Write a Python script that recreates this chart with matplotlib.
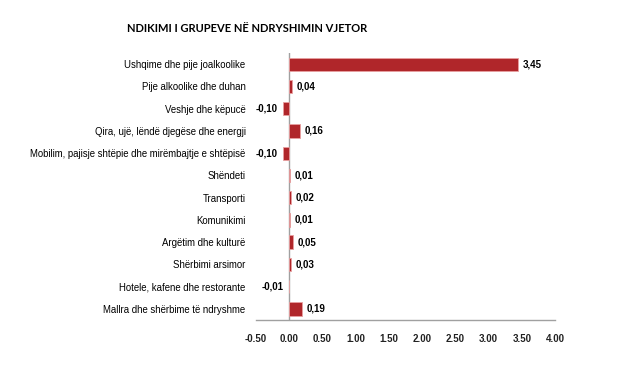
import matplotlib
matplotlib.use("Agg")
import matplotlib.pyplot as plt

categories = [
    "Ushqime dhe pije joalkoolike",
    "Pije alkoolike dhe duhan",
    "Veshje dhe këpucë",
    "Qira, ujë, lëndë djegëse dhe energji",
    "Mobilim, pajisje shtëpie dhe mirëmbajtje e shtëpisë",
    "Shëndeti",
    "Transporti",
    "Komunikimi",
    "Argëtim dhe kulturë",
    "Shërbimi arsimor",
    "Hotele, kafene dhe restorante",
    "Mallra dhe shërbime të ndryshme",
]
values = [3.45, 0.04, -0.10, 0.16, -0.10, 0.01, 0.02, 0.01, 0.05, 0.03, -0.01, 0.19]
xticks = [-0.5, 0.0, 0.5, 1.0, 1.5, 2.0, 2.5, 3.0, 3.5, 4.0]
title = "NDIKIMI I GRUPEVE NË NDRYSHIMIN VJETOR"

plt.rcParams['font.family'] = ['Liberation Sans', 'DejaVu Sans']

fig = plt.figure(figsize=(6.25, 3.74), dpi=100)
ax = fig.add_axes([0.4096, 0.1444, 0.4784, 0.7136])

y = list(range(len(categories)))
ax.barh(y, values, height=0.6, color="#B0262A", edgecolor="#E8A0A0", linewidth=0.6, zorder=3)
ax.set_ylim(len(categories) - 0.5, -0.5)
ax.set_xlim(-0.5, 4.0)
ax.set_yticks(y)
ax.set_yticklabels(categories, fontsize=6.9)
ax.tick_params(axis='y', length=0, pad=7.5)
ax.set_xticks(xticks)
ax.set_xticklabels([f"{t:.2f}" for t in xticks], fontsize=7, fontweight='bold', color="#222222")
ax.tick_params(axis='x', length=0, pad=10)

for s in ["top", "right", "left"]:
    ax.spines[s].set_visible(False)
ax.spines["bottom"].set_color("#A0A0A0")
ax.spines["bottom"].set_linewidth(1.0)
ax.axvline(0, color="#A0A0A0", linewidth=1.0, zorder=2)

for yi, v in zip(y, values):
    lab = f"{v:.2f}".replace(".", ",")
    if v >= 0:
        ax.text(v + 0.07, yi, lab, va="center", ha="left", fontsize=7, fontweight="bold")
    else:
        ax.text(v - 0.07, yi, lab, va="center", ha="right", fontsize=7, fontweight="bold")

fig.text(0.395, 0.925, title, ha="center", va="center", fontsize=8, fontweight="bold",
         family=['Lato', 'DejaVu Sans'])

fig.savefig("out.png", dpi=100)
